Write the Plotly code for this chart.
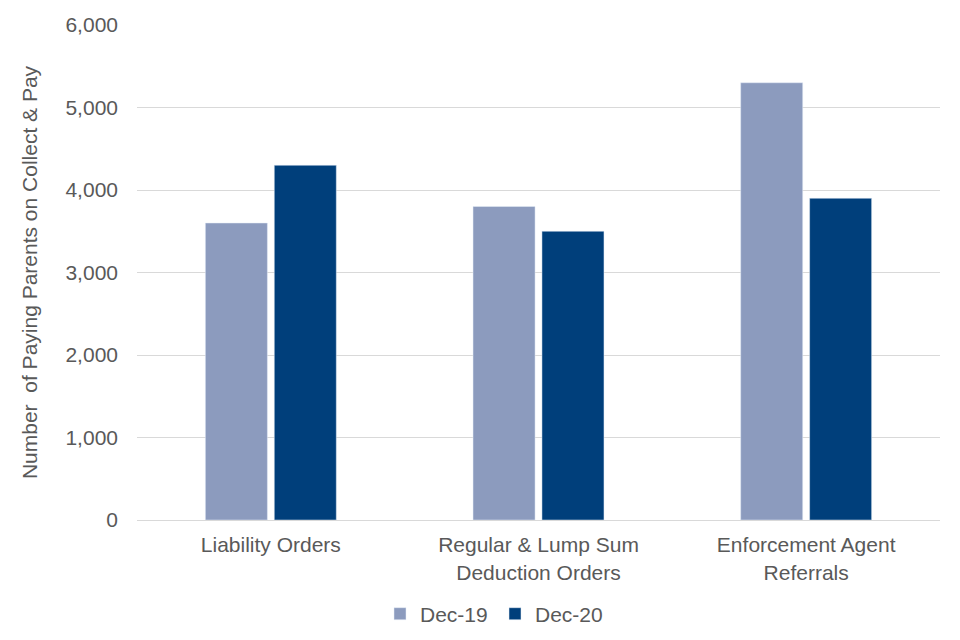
import plotly.graph_objects as go

categories = ["Liability Orders", "Regular & Lump Sum<br>Deduction Orders", "Enforcement Agent<br>Referrals"]
dec19 = [3600, 3800, 5300]
dec20 = [4300, 3500, 3900]
series_names = ["Dec-19", "Dec-20"]
tick_vals = [0, 1000, 2000, 3000, 4000, 5000, 6000]
tick_text = ["0", "1,000", "2,000", "3,000", "4,000", "5,000", "6,000"]

FS = 21
font = dict(family="Liberation Sans, Arial, sans-serif", size=FS, color="#595959")

fig = go.Figure()
fig.add_trace(go.Bar(x=categories, y=dec19, name=series_names[0], marker_color="#8C9BBE"))
fig.add_trace(go.Bar(x=categories, y=dec20, name=series_names[1], marker_color="#003F7B"))

fig.update_layout(
    width=960, height=640,
    margin=dict(l=129, r=28, t=17, b=128),
    paper_bgcolor="white", plot_bgcolor="white",
    barmode="group", bargap=0.485, bargroupgap=0.1,
    font=font,
    showlegend=True,
    legend=dict(orientation="h", x=(380 - 137) / 803, xanchor="left", y=-0.19, yanchor="middle",
                itemwidth=30, entrywidth=70, entrywidthmode="pixels",
                font=dict(size=FS, color="#595959"), traceorder="normal"),
)
fig.update_yaxes(
    range=[0, 6000], tickvals=tick_vals, ticktext=tick_text, automargin=False,
    showgrid=True, gridcolor="#D9D9D9", gridwidth=1, zeroline=False,
    showline=False, ticks="", ticklabelstandoff=18,
    tickfont=dict(size=FS, color="#595959"),
    title=dict(text="Number  of Paying Parents on Collect & Pay", font=dict(size=FS, color="#595959"), standoff=22),
)
fig.update_xaxes(
    showline=True, linecolor="#D9D9D9", linewidth=1, ticks="", automargin=False,
    ticklabelstandoff=6,
    tickfont=dict(size=FS, color="#595959"),
)

fig.write_html("out.html")
